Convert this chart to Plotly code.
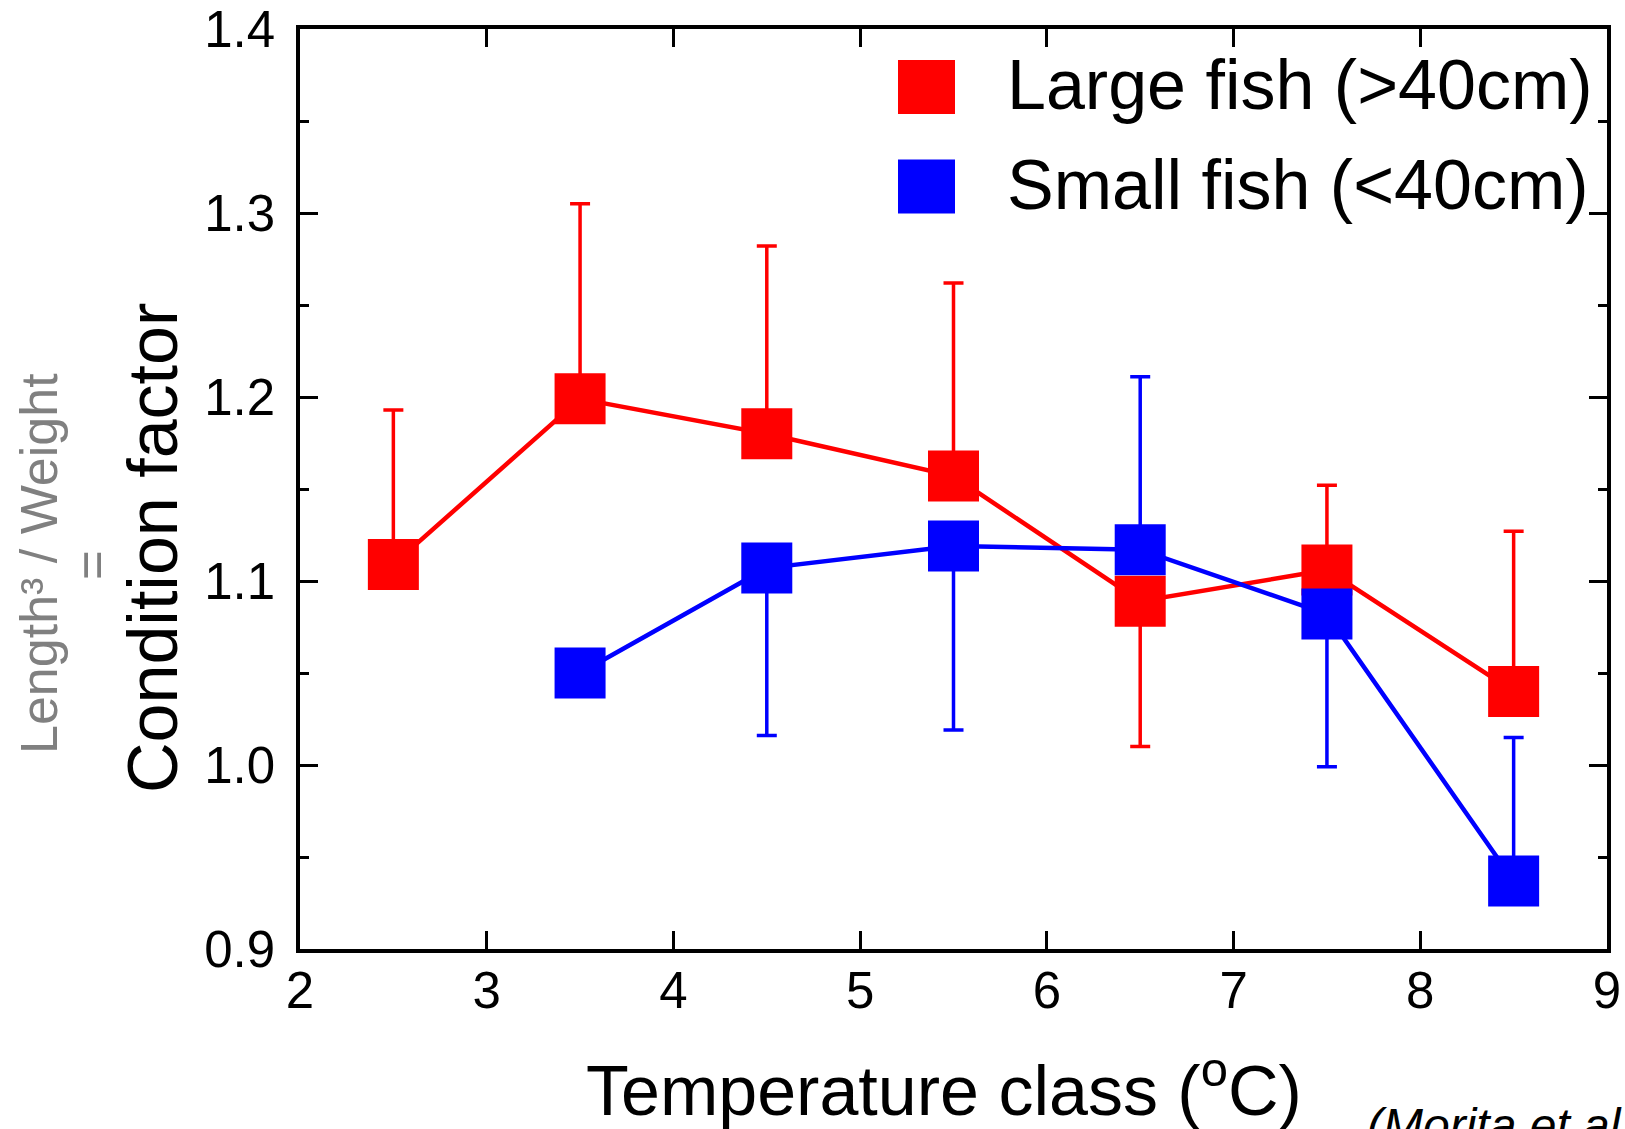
import plotly.graph_objects as go

# ---- data ----
temp_large = [2.5, 3.5, 4.5, 5.5, 6.5, 7.5, 8.5]
large_mean = [1.109, 1.199, 1.180, 1.157, 1.089, 1.106, 1.040]
large_err_up = [0.084, 0.106, 0.102, 0.105, 0.0, 0.046, 0.087]
large_err_down = [0.0, 0.0, 0.0, 0.0, 0.079, 0.0, 0.0]

temp_small = [3.5, 4.5, 5.5, 6.5, 7.5, 8.5]
small_mean = [1.050, 1.107, 1.119, 1.117, 1.082, 0.937]
small_err_up = [0.0, 0.0, 0.0, 0.094, 0.0, 0.078]
small_err_down = [0.0, 0.091, 0.100, 0.0, 0.083, 0.0]

series_names = ["Large fish (>40cm)", "Small fish (<40cm)"]
series_colors = ["#FF0000", "#0000FF"]

x_ticks = [2, 3, 4, 5, 6, 7, 8, 9]
y_ticks = [0.9, 1.0, 1.1, 1.2, 1.3, 1.4]

FONT = "Liberation Sans, Arial, sans-serif"
W, H = 1625, 1129
ML, MR, MT, MB = 300, 18, 29, 180
PW, PH = W - ML - MR, H - MT - MB


def px(xp):
    return (xp - ML) / PW


def py(yp):
    return (H - MB - yp) / PH


fig = go.Figure()
for xs, ys, up, dn, name, col in [
    (temp_large, large_mean, large_err_up, large_err_down, series_names[0], series_colors[0]),
    (temp_small, small_mean, small_err_up, small_err_down, series_names[1], series_colors[1]),
]:
    fig.add_trace(go.Scatter(
        x=xs, y=ys, name=name, mode="lines+markers",
        line=dict(color=col, width=4.5),
        marker=dict(symbol="square", size=51, color=col, line=dict(width=0)),
        error_y=dict(type="data", symmetric=False, array=up, arrayminus=dn,
                     color=col, thickness=3.5, width=10),
        showlegend=False, cliponaxis=False,
    ))

axis_common = dict(
    showline=True, linecolor="black", linewidth=3.5, mirror="ticks",
    ticks="inside", ticklen=18, tickwidth=3, tickcolor="black",
    showgrid=False, zeroline=False, automargin=False,
    tickfont=dict(family=FONT, size=51, color="black"),
)
fig.update_xaxes(range=[2, 9], tickvals=x_ticks, ticktext=[str(v) for v in x_ticks],
                 ticklabelstandoff=-6, **axis_common)
fig.update_yaxes(range=[0.9, 1.4], tickvals=y_ticks, ticktext=[f"{v:.1f}" for v in y_ticks],
                 ticklabelstandoff=11,
                 minor=dict(dtick=0.05, ticks="inside", ticklen=9, tickwidth=3, tickcolor="black", showgrid=False),
                 **axis_common)

shapes = []
annotations = []
# legend drawn manually (large swatches, no line)
legend_rows = [87, 186.5]
for row_y, name, col in zip(legend_rows, series_names, series_colors):
    shapes.append(dict(type="rect", xref="paper", yref="paper",
                       x0=px(898), x1=px(955), y0=py(row_y + 27), y1=py(row_y - 27),
                       fillcolor=col, line=dict(width=0)))
    annotations.append(dict(text=name, xref="paper", yref="paper", x=px(1005), y=py(row_y - 2),
                            xanchor="left", yanchor="middle", showarrow=False,
                            font=dict(family=FONT, size=70, color="black")))

annotations += [
    dict(text="Condition factor", xref="paper", yref="paper", x=px(153), y=py(548),
         xanchor="center", yanchor="middle", textangle=-90, showarrow=False,
         font=dict(family=FONT, size=70, color="black")),
    dict(text="Length³ / Weight", xref="paper", yref="paper", x=px(39), y=py(564),
         xanchor="center", yanchor="middle", textangle=-90, showarrow=False,
         font=dict(family=FONT, size=52, color="#808080")),
    dict(text="=", xref="paper", yref="paper", x=px(92), y=py(565),
         xanchor="center", yanchor="middle", textangle=-90, showarrow=False,
         font=dict(family=FONT, size=51, color="#808080")),
    dict(text="Temperature class (<sup>o</sup>C)", xref="paper", yref="paper", x=px(944), y=py(1086),
         xanchor="center", yanchor="middle", showarrow=False,
         font=dict(family=FONT, size=70, color="black")),
    dict(text="<i>(Morita et al.)</i>", xref="paper", yref="paper", x=px(1365), y=py(1097),
         xanchor="left", yanchor="top", showarrow=False,
         font=dict(family=FONT, size=48, color="black")),
]

fig.update_layout(
    width=W, height=H,
    margin=dict(l=ML, r=MR, t=MT, b=MB, pad=0, autoexpand=False),
    paper_bgcolor="white", plot_bgcolor="white",
    shapes=shapes, annotations=annotations,
    showlegend=False,
)

fig.write_html("out.html")
